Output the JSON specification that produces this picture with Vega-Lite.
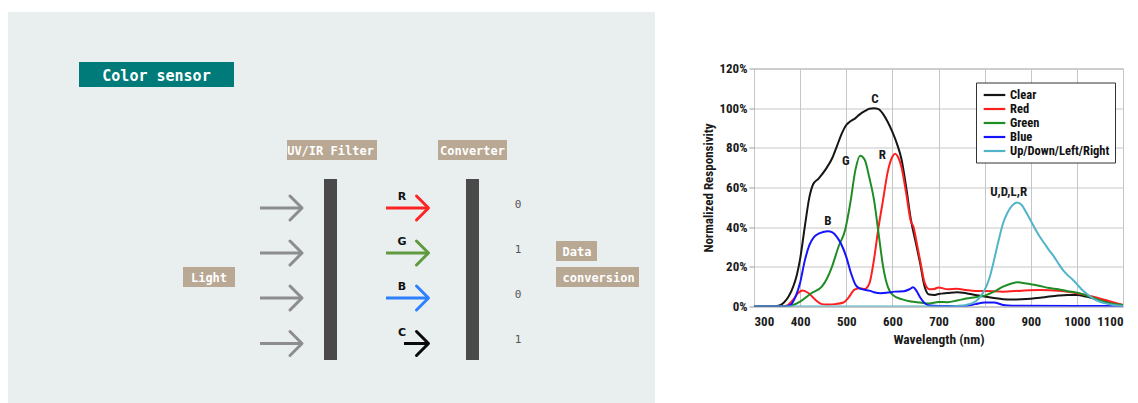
{
  "$schema": "https://vega.github.io/schema/vega-lite/v6.json",
  "background": "white",
  "padding": {"left": 8, "top": 12, "right": 0, "bottom": 0},
  "spacing": 47,
  "center": true,
  "config": {"view": {"stroke": null}},
  "resolve": {"scale": {"x": "independent", "y": "independent", "color": "independent"}, "legend": {"color": "independent"}},
  "datasets": {
    "parts": [
      {"part": "UV/IR filter", "stage": 3, "lane": 2, "lane_end": 8},
      {"part": "Converter", "stage": 5, "lane": 2, "lane_end": 8}
    ],
    "tags": [
      {"label": "Color sensor", "stage": 0, "lane": 0},
      {"label": "UV/IR Filter", "stage": 3, "lane": 1},
      {"label": "Converter", "stage": 5, "lane": 1},
      {"label": "Light", "stage": 1, "lane": 5},
      {"label": "Data", "stage": 7, "lane": 4},
      {"label": "conversion", "stage": 7, "lane": 5}
    ],
    "beams": [
      {"channel": "light", "stage": 2, "lane": 3},
      {"channel": "light", "stage": 2, "lane": 4},
      {"channel": "light", "stage": 2, "lane": 6},
      {"channel": "light", "stage": 2, "lane": 7},
      {"channel": "R", "stage": 4, "lane": 3},
      {"channel": "G", "stage": 4, "lane": 4},
      {"channel": "B", "stage": 4, "lane": 6},
      {"channel": "C", "stage": 4, "lane": 7}
    ],
    "bits": [
      {"channel": "R", "stage": 6, "lane": 3, "bit": "0"},
      {"channel": "G", "stage": 6, "lane": 4, "bit": "1"},
      {"channel": "B", "stage": 6, "lane": 6, "bit": "0"},
      {"channel": "C", "stage": 6, "lane": 7, "bit": "1"}
    ],
    "spectra": [
      {"series": "Clear", "nm": 300, "resp": 0.0},
      {"series": "Clear", "nm": 320, "resp": 0.0},
      {"series": "Clear", "nm": 340, "resp": 0.0},
      {"series": "Clear", "nm": 355, "resp": 0.005},
      {"series": "Clear", "nm": 365, "resp": 0.02},
      {"series": "Clear", "nm": 375, "resp": 0.05},
      {"series": "Clear", "nm": 385, "resp": 0.1},
      {"series": "Clear", "nm": 393, "resp": 0.16},
      {"series": "Clear", "nm": 400, "resp": 0.24},
      {"series": "Clear", "nm": 410, "resp": 0.4},
      {"series": "Clear", "nm": 420, "resp": 0.55},
      {"series": "Clear", "nm": 428, "resp": 0.615},
      {"series": "Clear", "nm": 440, "resp": 0.645},
      {"series": "Clear", "nm": 455, "resp": 0.69},
      {"series": "Clear", "nm": 470, "resp": 0.75},
      {"series": "Clear", "nm": 480, "resp": 0.81},
      {"series": "Clear", "nm": 490, "resp": 0.87},
      {"series": "Clear", "nm": 500, "resp": 0.915},
      {"series": "Clear", "nm": 510, "resp": 0.935},
      {"series": "Clear", "nm": 520, "resp": 0.95},
      {"series": "Clear", "nm": 530, "resp": 0.97},
      {"series": "Clear", "nm": 540, "resp": 0.985},
      {"series": "Clear", "nm": 550, "resp": 0.997},
      {"series": "Clear", "nm": 560, "resp": 1.0},
      {"series": "Clear", "nm": 570, "resp": 0.995},
      {"series": "Clear", "nm": 580, "resp": 0.97},
      {"series": "Clear", "nm": 590, "resp": 0.93},
      {"series": "Clear", "nm": 600, "resp": 0.88},
      {"series": "Clear", "nm": 610, "resp": 0.82},
      {"series": "Clear", "nm": 620, "resp": 0.74},
      {"series": "Clear", "nm": 630, "resp": 0.6},
      {"series": "Clear", "nm": 640, "resp": 0.44},
      {"series": "Clear", "nm": 650, "resp": 0.33},
      {"series": "Clear", "nm": 660, "resp": 0.22},
      {"series": "Clear", "nm": 670, "resp": 0.1},
      {"series": "Clear", "nm": 680, "resp": 0.06},
      {"series": "Clear", "nm": 690, "resp": 0.058},
      {"series": "Clear", "nm": 700, "resp": 0.063},
      {"series": "Clear", "nm": 720, "resp": 0.068},
      {"series": "Clear", "nm": 740, "resp": 0.072},
      {"series": "Clear", "nm": 760, "resp": 0.067},
      {"series": "Clear", "nm": 780, "resp": 0.058},
      {"series": "Clear", "nm": 800, "resp": 0.05},
      {"series": "Clear", "nm": 820, "resp": 0.043},
      {"series": "Clear", "nm": 840, "resp": 0.037},
      {"series": "Clear", "nm": 860, "resp": 0.035},
      {"series": "Clear", "nm": 880, "resp": 0.036},
      {"series": "Clear", "nm": 900, "resp": 0.039},
      {"series": "Clear", "nm": 920, "resp": 0.044},
      {"series": "Clear", "nm": 940, "resp": 0.05},
      {"series": "Clear", "nm": 960, "resp": 0.055},
      {"series": "Clear", "nm": 980, "resp": 0.058},
      {"series": "Clear", "nm": 1000, "resp": 0.058},
      {"series": "Clear", "nm": 1020, "resp": 0.05},
      {"series": "Clear", "nm": 1040, "resp": 0.037},
      {"series": "Clear", "nm": 1060, "resp": 0.025},
      {"series": "Clear", "nm": 1080, "resp": 0.013},
      {"series": "Clear", "nm": 1100, "resp": 0.007},

      {"series": "Red", "nm": 300, "resp": 0.0},
      {"series": "Red", "nm": 360, "resp": 0.0},
      {"series": "Red", "nm": 372, "resp": 0.006},
      {"series": "Red", "nm": 385, "resp": 0.034},
      {"series": "Red", "nm": 395, "resp": 0.066},
      {"series": "Red", "nm": 405, "resp": 0.081},
      {"series": "Red", "nm": 418, "resp": 0.068},
      {"series": "Red", "nm": 433, "resp": 0.034},
      {"series": "Red", "nm": 447, "resp": 0.012},
      {"series": "Red", "nm": 460, "resp": 0.01},
      {"series": "Red", "nm": 476, "resp": 0.012},
      {"series": "Red", "nm": 494, "resp": 0.02},
      {"series": "Red", "nm": 505, "resp": 0.045},
      {"series": "Red", "nm": 518, "resp": 0.085},
      {"series": "Red", "nm": 530, "resp": 0.092},
      {"series": "Red", "nm": 540, "resp": 0.088},
      {"series": "Red", "nm": 550, "resp": 0.115},
      {"series": "Red", "nm": 560, "resp": 0.235},
      {"series": "Red", "nm": 570, "resp": 0.4},
      {"series": "Red", "nm": 580, "resp": 0.54},
      {"series": "Red", "nm": 590, "resp": 0.68},
      {"series": "Red", "nm": 600, "resp": 0.755},
      {"series": "Red", "nm": 606, "resp": 0.77},
      {"series": "Red", "nm": 612, "resp": 0.755},
      {"series": "Red", "nm": 620, "resp": 0.7},
      {"series": "Red", "nm": 630, "resp": 0.57},
      {"series": "Red", "nm": 640, "resp": 0.43},
      {"series": "Red", "nm": 646, "resp": 0.4},
      {"series": "Red", "nm": 652, "resp": 0.33},
      {"series": "Red", "nm": 660, "resp": 0.235},
      {"series": "Red", "nm": 670, "resp": 0.12},
      {"series": "Red", "nm": 680, "resp": 0.087},
      {"series": "Red", "nm": 690, "resp": 0.088},
      {"series": "Red", "nm": 700, "resp": 0.096},
      {"series": "Red", "nm": 720, "resp": 0.087},
      {"series": "Red", "nm": 740, "resp": 0.09},
      {"series": "Red", "nm": 760, "resp": 0.083},
      {"series": "Red", "nm": 780, "resp": 0.078},
      {"series": "Red", "nm": 800, "resp": 0.078},
      {"series": "Red", "nm": 840, "resp": 0.075},
      {"series": "Red", "nm": 880, "resp": 0.08},
      {"series": "Red", "nm": 920, "resp": 0.083},
      {"series": "Red", "nm": 960, "resp": 0.08},
      {"series": "Red", "nm": 1000, "resp": 0.067},
      {"series": "Red", "nm": 1040, "resp": 0.047},
      {"series": "Red", "nm": 1080, "resp": 0.02},
      {"series": "Red", "nm": 1100, "resp": 0.008},

      {"series": "Green", "nm": 300, "resp": 0.0},
      {"series": "Green", "nm": 370, "resp": 0.0},
      {"series": "Green", "nm": 385, "resp": 0.008},
      {"series": "Green", "nm": 400, "resp": 0.025},
      {"series": "Green", "nm": 425, "resp": 0.068},
      {"series": "Green", "nm": 447, "resp": 0.1},
      {"series": "Green", "nm": 458, "resp": 0.14},
      {"series": "Green", "nm": 469, "resp": 0.2},
      {"series": "Green", "nm": 483, "resp": 0.3},
      {"series": "Green", "nm": 498, "resp": 0.39},
      {"series": "Green", "nm": 509, "resp": 0.525},
      {"series": "Green", "nm": 520, "resp": 0.69},
      {"series": "Green", "nm": 530, "resp": 0.76},
      {"series": "Green", "nm": 540, "resp": 0.74},
      {"series": "Green", "nm": 550, "resp": 0.65},
      {"series": "Green", "nm": 560, "resp": 0.54},
      {"series": "Green", "nm": 570, "resp": 0.37},
      {"series": "Green", "nm": 580, "resp": 0.2},
      {"series": "Green", "nm": 590, "resp": 0.1},
      {"series": "Green", "nm": 600, "resp": 0.06},
      {"series": "Green", "nm": 620, "resp": 0.037},
      {"series": "Green", "nm": 640, "resp": 0.025},
      {"series": "Green", "nm": 660, "resp": 0.02},
      {"series": "Green", "nm": 680, "resp": 0.015},
      {"series": "Green", "nm": 700, "resp": 0.023},
      {"series": "Green", "nm": 720, "resp": 0.022},
      {"series": "Green", "nm": 740, "resp": 0.03},
      {"series": "Green", "nm": 760, "resp": 0.04},
      {"series": "Green", "nm": 780, "resp": 0.047},
      {"series": "Green", "nm": 800, "resp": 0.055},
      {"series": "Green", "nm": 820, "resp": 0.075},
      {"series": "Green", "nm": 840, "resp": 0.1},
      {"series": "Green", "nm": 860, "resp": 0.117},
      {"series": "Green", "nm": 870, "resp": 0.122},
      {"series": "Green", "nm": 880, "resp": 0.12},
      {"series": "Green", "nm": 900, "resp": 0.112},
      {"series": "Green", "nm": 920, "resp": 0.103},
      {"series": "Green", "nm": 940, "resp": 0.093},
      {"series": "Green", "nm": 960, "resp": 0.087},
      {"series": "Green", "nm": 980, "resp": 0.077},
      {"series": "Green", "nm": 1000, "resp": 0.07},
      {"series": "Green", "nm": 1020, "resp": 0.057},
      {"series": "Green", "nm": 1040, "resp": 0.04},
      {"series": "Green", "nm": 1060, "resp": 0.023},
      {"series": "Green", "nm": 1080, "resp": 0.013},
      {"series": "Green", "nm": 1100, "resp": 0.007},

      {"series": "Blue", "nm": 300, "resp": 0.0},
      {"series": "Blue", "nm": 365, "resp": 0.0},
      {"series": "Blue", "nm": 380, "resp": 0.01},
      {"series": "Blue", "nm": 390, "resp": 0.05},
      {"series": "Blue", "nm": 400, "resp": 0.12},
      {"series": "Blue", "nm": 410, "resp": 0.23},
      {"series": "Blue", "nm": 420, "resp": 0.31},
      {"series": "Blue", "nm": 430, "resp": 0.35},
      {"series": "Blue", "nm": 440, "resp": 0.367},
      {"series": "Blue", "nm": 450, "resp": 0.376},
      {"series": "Blue", "nm": 460, "resp": 0.38},
      {"series": "Blue", "nm": 470, "resp": 0.374},
      {"series": "Blue", "nm": 480, "resp": 0.35},
      {"series": "Blue", "nm": 490, "resp": 0.31},
      {"series": "Blue", "nm": 500, "resp": 0.25},
      {"series": "Blue", "nm": 510, "resp": 0.17},
      {"series": "Blue", "nm": 520, "resp": 0.11},
      {"series": "Blue", "nm": 530, "resp": 0.09},
      {"series": "Blue", "nm": 540, "resp": 0.084},
      {"series": "Blue", "nm": 550, "resp": 0.08},
      {"series": "Blue", "nm": 560, "resp": 0.072},
      {"series": "Blue", "nm": 575, "resp": 0.067},
      {"series": "Blue", "nm": 590, "resp": 0.07},
      {"series": "Blue", "nm": 605, "resp": 0.075},
      {"series": "Blue", "nm": 625, "resp": 0.077},
      {"series": "Blue", "nm": 638, "resp": 0.088},
      {"series": "Blue", "nm": 645, "resp": 0.097},
      {"series": "Blue", "nm": 652, "resp": 0.08},
      {"series": "Blue", "nm": 660, "resp": 0.047},
      {"series": "Blue", "nm": 670, "resp": 0.017},
      {"series": "Blue", "nm": 680, "resp": 0.005},
      {"series": "Blue", "nm": 700, "resp": 0.003},
      {"series": "Blue", "nm": 760, "resp": 0.003},
      {"series": "Blue", "nm": 780, "resp": 0.012},
      {"series": "Blue", "nm": 800, "resp": 0.02},
      {"series": "Blue", "nm": 820, "resp": 0.02},
      {"series": "Blue", "nm": 840, "resp": 0.008},
      {"series": "Blue", "nm": 860, "resp": 0.004},
      {"series": "Blue", "nm": 1000, "resp": 0.003},
      {"series": "Blue", "nm": 1100, "resp": 0.003},

      {"series": "Up/Down/Left/Right", "nm": 300, "resp": 0.0},
      {"series": "Up/Down/Left/Right", "nm": 700, "resp": 0.0},
      {"series": "Up/Down/Left/Right", "nm": 740, "resp": 0.003},
      {"series": "Up/Down/Left/Right", "nm": 760, "resp": 0.008},
      {"series": "Up/Down/Left/Right", "nm": 780, "resp": 0.025},
      {"series": "Up/Down/Left/Right", "nm": 790, "resp": 0.047},
      {"series": "Up/Down/Left/Right", "nm": 800, "resp": 0.083},
      {"series": "Up/Down/Left/Right", "nm": 810, "resp": 0.14},
      {"series": "Up/Down/Left/Right", "nm": 820, "resp": 0.23},
      {"series": "Up/Down/Left/Right", "nm": 830, "resp": 0.33},
      {"series": "Up/Down/Left/Right", "nm": 840, "resp": 0.42},
      {"series": "Up/Down/Left/Right", "nm": 850, "resp": 0.475},
      {"series": "Up/Down/Left/Right", "nm": 860, "resp": 0.51},
      {"series": "Up/Down/Left/Right", "nm": 870, "resp": 0.525},
      {"series": "Up/Down/Left/Right", "nm": 880, "resp": 0.513},
      {"series": "Up/Down/Left/Right", "nm": 890, "resp": 0.475},
      {"series": "Up/Down/Left/Right", "nm": 900, "resp": 0.433},
      {"series": "Up/Down/Left/Right", "nm": 910, "resp": 0.39},
      {"series": "Up/Down/Left/Right", "nm": 920, "resp": 0.35},
      {"series": "Up/Down/Left/Right", "nm": 930, "resp": 0.317},
      {"series": "Up/Down/Left/Right", "nm": 940, "resp": 0.283},
      {"series": "Up/Down/Left/Right", "nm": 950, "resp": 0.253},
      {"series": "Up/Down/Left/Right", "nm": 960, "resp": 0.217},
      {"series": "Up/Down/Left/Right", "nm": 970, "resp": 0.183},
      {"series": "Up/Down/Left/Right", "nm": 980, "resp": 0.158},
      {"series": "Up/Down/Left/Right", "nm": 990, "resp": 0.137},
      {"series": "Up/Down/Left/Right", "nm": 1000, "resp": 0.113},
      {"series": "Up/Down/Left/Right", "nm": 1010, "resp": 0.087},
      {"series": "Up/Down/Left/Right", "nm": 1020, "resp": 0.067},
      {"series": "Up/Down/Left/Right", "nm": 1040, "resp": 0.033},
      {"series": "Up/Down/Left/Right", "nm": 1060, "resp": 0.017},
      {"series": "Up/Down/Left/Right", "nm": 1080, "resp": 0.007},
      {"series": "Up/Down/Left/Right", "nm": 1100, "resp": 0.003}
    ],
    "callouts": [
      {"label": "C", "nm": 562, "resp": 1.047},
      {"label": "G", "nm": 499, "resp": 0.736},
      {"label": "R", "nm": 578, "resp": 0.766},
      {"label": "B", "nm": 460, "resp": 0.429},
      {"label": "U,D,L,R", "nm": 852, "resp": 0.576}
    ]
  },
  "hconcat": [
    {
      "width": 647,
      "height": 391,
      "view": {"fill": "#e9eeee", "stroke": null},
      "encoding": {
        "x": {"field": "stage", "type": "quantitative", "axis": null,
              "scale": {"domain": [0, 1, 2, 3, 4, 5, 6, 7], "range": [148.5, 201, 273.5, 322.5, 400, 464.5, 510, 548], "zero": false, "nice": false, "padding": 0}},
        "y": {"field": "lane", "type": "quantitative", "axis": null,
              "scale": {"domain": [0, 1, 2, 3, 4, 5, 6, 7, 8], "range": [62.5, 138, 167, 196, 241, 265, 286, 331.5, 348], "zero": false, "nice": false, "padding": 0}}
      },
      "layer": [
        {"data": {"name": "parts"}, "mark": {"type": "bar", "width": 13, "color": "#4a4a4a"}, "encoding": {"y2": {"field": "lane_end"}}},

        {"data": {"name": "tags"}, "transform": [{"filter": "datum.label === 'Color sensor'"}],
         "mark": {"type": "bar", "width": 155, "yOffset": -12.5, "y2Offset": 12.5, "color": "#007b79"}, "encoding": {"y2": {"field": "lane"}}},
        {"data": {"name": "tags"}, "transform": [{"filter": "datum.label === 'UV/IR Filter'"}],
         "mark": {"type": "bar", "width": 90, "xOffset": 1.5, "yOffset": -10, "y2Offset": 10, "color": "#b9a893"}, "encoding": {"y2": {"field": "lane"}}},
        {"data": {"name": "tags"}, "transform": [{"filter": "datum.label === 'Converter'"}],
         "mark": {"type": "bar", "width": 69, "yOffset": -10, "y2Offset": 10, "color": "#b9a893"}, "encoding": {"y2": {"field": "lane"}}},
        {"data": {"name": "tags"}, "transform": [{"filter": "datum.label === 'Light'"}],
         "mark": {"type": "bar", "width": 52, "yOffset": -10, "y2Offset": 10, "color": "#b9a893"}, "encoding": {"y2": {"field": "lane"}}},
        {"data": {"name": "tags"}, "transform": [{"filter": "datum.label === 'Data'"}],
         "mark": {"type": "bar", "width": 41, "xOffset": 20.5, "yOffset": -12, "y2Offset": 8, "color": "#b9a893"}, "encoding": {"y2": {"field": "lane"}}},
        {"data": {"name": "tags"}, "transform": [{"filter": "datum.label === 'conversion'"}],
         "mark": {"type": "bar", "width": 83, "xOffset": 41.5, "yOffset": -10, "y2Offset": 10, "color": "#b9a893"}, "encoding": {"y2": {"field": "lane"}}},

        {"data": {"name": "tags"}, "transform": [{"filter": "datum.label === 'Color sensor'"}],
         "mark": {"type": "text", "font": "DejaVu Sans Mono", "fontSize": 15, "fontWeight": "bold", "color": "white", "baseline": "middle", "yOffset": 1},
         "encoding": {"text": {"field": "label"}}},
        {"data": {"name": "tags"}, "transform": [{"filter": "indexof(['UV/IR Filter', 'Converter', 'Light'], datum.label) >= 0"}],
         "mark": {"type": "text", "font": "DejaVu Sans Mono", "fontSize": 12, "fontWeight": "bold", "color": "white", "baseline": "middle", "yOffset": 1},
         "encoding": {"text": {"field": "label"}}},
        {"data": {"name": "tags"}, "transform": [{"filter": "datum.label === 'conversion'"}],
         "mark": {"type": "text", "font": "DejaVu Sans Mono", "fontSize": 12, "fontWeight": "bold", "color": "white", "baseline": "middle", "align": "left", "xOffset": 6.5, "yOffset": 1},
         "encoding": {"text": {"field": "label"}}},
        {"data": {"name": "tags"}, "transform": [{"filter": "datum.label === 'Data'"}],
         "mark": {"type": "text", "font": "DejaVu Sans Mono", "fontSize": 12, "fontWeight": "bold", "color": "white", "baseline": "middle", "align": "left", "xOffset": 6.5, "yOffset": -1},
         "encoding": {"text": {"field": "label"}}},

        {"data": {"name": "beams"}, "transform": [{"filter": "datum.channel === 'light'"}],
         "mark": {"type": "rule", "strokeWidth": 3, "xOffset": -21.5, "x2Offset": 20},
         "encoding": {"x2": {"field": "stage"},
                      "color": {"field": "channel", "type": "nominal", "legend": null,
                                "scale": {"domain": ["light", "R", "G", "B", "C"], "range": ["#8d8d8d", "#ff2424", "#5f9a3f", "#2f80ff", "#0a0a0a"]}}}},
        {"data": {"name": "beams"}, "transform": [{"filter": "indexof(['R', 'G', 'B'], datum.channel) >= 0"}],
         "mark": {"type": "rule", "strokeWidth": 3, "xOffset": -22, "x2Offset": 20.5},
         "encoding": {"x2": {"field": "stage"}, "color": {"field": "channel", "type": "nominal", "legend": null}}},
        {"data": {"name": "beams"}, "transform": [{"filter": "datum.channel === 'C'"}],
         "mark": {"type": "rule", "strokeWidth": 3, "xOffset": -4, "x2Offset": 20.5},
         "encoding": {"x2": {"field": "stage"}, "color": {"field": "channel", "type": "nominal", "legend": null}}},
        {"data": {"name": "beams"},
         "mark": {"type": "point", "shape": "M-1,-1L0,0L-1,1", "filled": false, "strokeWidth": 3, "size": 576, "xOffset": 20.5, "strokeJoin": "round", "strokeCap": "round", "opacity": 1},
         "encoding": {"color": {"field": "channel", "type": "nominal", "legend": null}}},
        {"data": {"name": "beams"}, "transform": [{"filter": "datum.channel !== 'light'"}],
         "mark": {"type": "text", "font": "DejaVu Sans", "fontSize": 11, "fontWeight": "bold", "color": "#111111", "baseline": "middle", "xOffset": -6, "yOffset": -11},
         "encoding": {"text": {"field": "channel"}}},
        {"data": {"name": "bits"},
         "mark": {"type": "text", "font": "DejaVu Sans Mono", "fontSize": 11, "color": "#555555", "baseline": "middle", "yOffset": -3.5},
         "encoding": {"text": {"field": "bit"}}}
      ]
    },
    {
      "width": 369,
      "height": 238,
      "view": {"fill": "white", "stroke": "#a6a6a6", "strokeWidth": 1},
      "encoding": {
        "x": {"field": "nm", "type": "quantitative",
              "scale": {"domain": [300, 1100], "nice": false, "zero": false},
              "axis": {"values": [300, 400, 500, 600, 700, 800, 900, 1000, 1100], "format": "d", "labelOverlap": false, "title": "Wavelength (nm)",
                       "grid": true, "gridColor": "#c6c6c6", "ticks": false, "domain": false, "labelPadding": 9,
                       "labelFont": "Roboto Condensed", "labelFontWeight": "bold", "labelFontSize": 13, "labelColor": "#1a1a1a",
                       "titleFont": "Roboto Condensed", "titleFontWeight": "bold", "titleFontSize": 13.5, "titleColor": "#1a1a1a", "titlePadding": 4}},
        "y": {"field": "resp", "type": "quantitative",
              "scale": {"domain": [0, 1.2], "nice": false, "zero": false},
              "axis": {"values": [0, 0.2, 0.4, 0.6, 0.8, 1, 1.2], "tickCount": 7, "format": ".0%", "labelOverlap": false, "labelSeparation": 0, "title": "Normalized Responsivity",
                       "grid": true, "gridColor": "#c6c6c6", "tickSize": 5, "tickColor": "#9a9a9a", "domain": false, "labelPadding": 2,
                       "labelFont": "Roboto Condensed", "labelFontWeight": "bold", "labelFontSize": 13, "labelColor": "#1a1a1a",
                       "titleFont": "Roboto Condensed", "titleFontWeight": "bold", "titleFontSize": 13, "titleColor": "#1a1a1a", "titlePadding": 3}}
      },
      "layer": [
        {
          "data": {"name": "spectra"},
          "mark": {"type": "line", "interpolate": "monotone", "strokeWidth": 2, "clip": true},
          "encoding": {
            "color": {"field": "series", "type": "nominal",
                      "scale": {"domain": ["Clear", "Red", "Green", "Blue", "Up/Down/Left/Right"], "range": ["#161616", "#ff1f1f", "#1f8c26", "#1414ff", "#52b4c8"]},
                      "legend": {"title": null, "orient": "none", "legendX": 222, "legendY": 14,
                                 "symbolType": "M-1.8,0H1.8", "symbolSize": 144, "symbolStrokeWidth": 2.2, "symbolOffset": 6,
                                 "labelFont": "Roboto Condensed", "labelFontWeight": "bold", "labelFontSize": 12.5, "labelColor": "#111111", "labelOffset": 8,
                                 "strokeColor": "#333333", "fillColor": "white", "padding": 5, "rowPadding": 0, "cornerRadius": 0}}
          }
        },
        {
          "data": {"name": "callouts"},
          "mark": {"type": "text", "font": "Roboto Condensed", "fontWeight": "bold", "fontSize": 13, "color": "#1a1a1a", "baseline": "middle"},
          "encoding": {"text": {"field": "label"}}
        }
      ]
    }
  ]
}
